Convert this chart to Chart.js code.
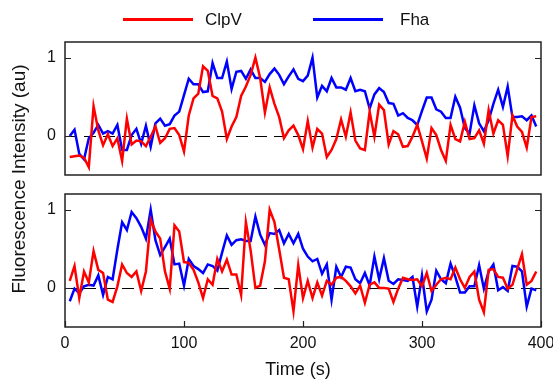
<!DOCTYPE html>
<html><head><meta charset="utf-8">
<script src="https://cdn.jsdelivr.net/npm/chart.js@4.4.1/dist/chart.umd.min.js"></script>
<style>
html,body{margin:0;padding:0;background:#fff;}
#wrap{position:relative;width:553px;height:380px;background:#fff;}
canvas{position:absolute;left:0;top:0;}
</style></head><body>
<div id="wrap"><canvas id="top" width="553" height="380"></canvas><canvas id="bot" width="553" height="380"></canvas></div>
<script>
const time = [4,8,12,16,20,24,28,32,36,40,
44,48,52,56,60,64,68,72,76,80,
84,88,92,96,100,104,108,112,116,120,
124,128,132,136,140,144,148,152,156,160,
164,168,172,176,180,184,188,192,196,200,
204,208,212,216,220,224,228,232,236,240,
244,248,252,256,260,264,268,272,276,280,
284,288,292,296,300,304,308,312,316,320,
324,328,332,336,340,344,348,352,356,360,
364,368,372,376,380,384,388,392,396];

const seriesNames = ['ClpV', 'Fha'];
const seriesColors = ['#ff0000', '#0000ff'];

const topClpV = [-0.27,-0.26,-0.25,-0.28,-0.40,0.38,0.07,-0.12,0.02,-0.13,
-0.03,-0.32,0.22,-0.11,-0.06,-0.07,-0.13,-0.01,0.12,-0.09,
-0.03,0.09,0.10,0.01,-0.20,0.26,0.48,0.54,0.89,0.83,
0.51,0.48,0.31,-0.04,0.12,0.24,0.51,0.63,0.78,1.00,
0.74,0.30,0.62,0.41,0.24,-0.03,0.07,0.13,0.01,-0.17,
0.19,-0.15,0.09,0.03,-0.27,-0.18,-0.04,0.21,-0.01,0.30,
-0.06,-0.16,-0.18,0.31,-0.01,0.40,0.33,-0.11,0.06,0.02,
-0.14,-0.13,-0.01,0.14,-0.07,-0.29,0.10,0.01,-0.18,-0.32,
0.14,-0.04,-0.07,0.18,-0.04,-0.03,0.07,-0.10,0.33,0.03,
0.20,0.14,-0.26,0.26,0.12,0.05,-0.15,0.24,0.25];

const topFha = [0.00,0.08,-0.23,-0.30,-0.03,0.04,0.14,0.03,0.06,0.03,
0.14,-0.18,-0.18,0.01,0.09,-0.10,0.13,-0.14,0.16,0.22,
0.13,0.15,0.26,0.31,0.52,0.73,0.66,0.66,0.56,0.57,
0.93,0.74,0.74,0.95,0.60,0.82,0.83,0.73,0.85,0.74,
0.74,0.69,0.79,0.86,0.78,0.66,0.76,0.85,0.73,0.70,
0.77,1.00,0.49,0.64,0.57,0.74,0.62,0.62,0.59,0.74,
0.57,0.59,0.57,0.35,0.53,0.61,0.56,0.42,0.41,0.26,
0.29,0.23,0.20,0.14,0.32,0.49,0.49,0.34,0.31,0.23,
0.23,0.50,0.36,0.10,0.03,0.39,0.16,0.06,0.20,0.41,
0.59,0.37,0.63,0.24,0.24,0.25,0.20,0.26,0.12];

const botClpV = [0.09,0.28,-0.13,0.21,0.07,0.47,0.23,0.19,-0.15,-0.18,
0.02,0.30,0.19,0.14,0.21,-0.04,0.21,0.87,0.72,0.63,
0.21,-0.01,0.80,0.72,0.33,0.32,0.23,0.07,-0.13,0.11,
0.04,0.37,0.21,0.36,0.17,0.17,-0.09,0.84,0.48,0.00,
0.03,0.34,1.00,0.84,0.49,0.13,0.11,-0.30,0.29,-0.13,
0.09,-0.13,0.07,-0.10,0.09,0.04,0.13,0.14,0.09,0.02,
-0.07,0.03,-0.19,0.04,0.07,0.00,0.00,-0.01,-0.18,-0.01,
0.13,0.11,0.10,0.11,0.02,0.19,-0.04,0.04,0.11,0.13,
0.11,0.26,0.11,0.00,0.14,0.21,-0.15,-0.31,0.23,0.24,
0.14,0.13,-0.01,0.04,0.24,0.43,0.04,0.09,0.21];

const botFha = [-0.17,-0.01,-0.07,0.02,0.04,0.03,0.16,-0.09,0.14,0.11,
0.49,0.84,0.74,0.97,0.89,0.78,0.63,1.00,0.61,0.42,
0.52,0.63,0.30,0.31,0.03,0.37,0.28,0.24,0.19,0.30,
0.28,0.22,0.45,0.67,0.55,0.61,0.62,0.60,0.60,0.91,
0.68,0.55,0.70,0.69,0.74,0.57,0.69,0.57,0.69,0.50,
0.40,0.34,0.37,0.18,0.30,-0.15,0.27,0.14,0.27,0.26,
0.11,0.06,0.19,0.03,0.40,0.11,0.38,0.09,0.05,0.11,
0.10,0.09,0.14,-0.24,0.16,-0.30,-0.15,0.22,0.11,0.06,
0.31,0.14,-0.06,-0.06,0.02,0.02,0.29,-0.01,0.21,0.30,
-0.03,0.01,-0.04,0.28,0.27,0.21,-0.24,-0.01,-0.03];

const xTicks = [0, 100, 200, 300, 400];
const yTicks = [0, 1];
const xTitle = 'Time (s)';
const yTitle = 'Fluorescence Intensity (au)';

const FONT = "'Liberation Sans', Arial, Helvetica, sans-serif";

function pts(v) { return time.map((t, i) => ({ x: t, y: v[i] })); }
function mkDatasets(a, b) {
  return [a, b].map((v, i) => ({
    label: seriesNames[i], data: pts(v),
    borderColor: seriesColors[i], backgroundColor: seriesColors[i],
    borderWidth: 2.5, pointRadius: 0, tension: 0, fill: false
  }));
}

const panelPlugin = {
  id: 'panel',
  beforeDatasetsDraw(chart) {
    const { ctx, chartArea: a, scales: { y } } = chart;
    ctx.save();
    ctx.beginPath(); ctx.rect(a.left, a.top, a.width, a.height); ctx.clip();
    ctx.strokeStyle = '#000'; ctx.lineWidth = 1.2; ctx.setLineDash([12, 7]);
    const y0 = Math.round(y.getPixelForValue(0)) + 0.5;
    ctx.beginPath(); ctx.moveTo(a.left, y0); ctx.lineTo(a.right, y0); ctx.stroke();
    ctx.restore();
  },
  afterDraw(chart, args, o) {
    const { ctx, chartArea: a, scales: { x, y } } = chart;
    ctx.save();
    ctx.setLineDash([]);
    ctx.strokeStyle = '#222'; ctx.lineWidth = 1.5;
    ctx.strokeRect(a.left, a.top, a.width, a.height);
    ctx.lineWidth = 1.2;
    yTicks.forEach(v => {
      const p = Math.round(y.getPixelForValue(v)) + 0.5;
      ctx.beginPath();
      ctx.moveTo(a.left, p); ctx.lineTo(a.left + 6, p);
      ctx.moveTo(a.right, p); ctx.lineTo(a.right - 6, p);
      ctx.stroke();
    });
    if (o.xticks) {
      xTicks.forEach(v => {
        const p = Math.round(x.getPixelForValue(v)) + 0.5;
        ctx.beginPath(); ctx.moveTo(p, a.bottom); ctx.lineTo(p, a.bottom - 6); ctx.stroke();
      });
      ctx.fillStyle = '#111';
      ctx.font = '18px ' + FONT;
      ctx.textAlign = 'center'; ctx.textBaseline = 'middle';
      ctx.fillText(xTitle, 298, 370);
    }
    if (o.legend) {
      const pos = [{ x1: 123, x2: 193, tx: 205 }, { x1: 313, x2: 383, tx: 400 }];
      chart.data.datasets.forEach((d, i) => {
        ctx.strokeStyle = d.borderColor; ctx.lineWidth = 3;
        ctx.beginPath(); ctx.moveTo(pos[i].x1, 19.5); ctx.lineTo(pos[i].x2, 19.5); ctx.stroke();
        ctx.fillStyle = '#111'; ctx.font = '17px ' + FONT;
        ctx.textAlign = 'left'; ctx.textBaseline = 'middle';
        ctx.fillText(d.label, pos[i].tx, 20);
      });
    }
    if (o.ytitle) {
      ctx.translate(20, 179);
      ctx.rotate(-Math.PI / 2);
      ctx.fillStyle = '#111'; ctx.font = '19px ' + FONT;
      ctx.textAlign = 'center'; ctx.textBaseline = 'middle';
      ctx.fillText(yTitle, 0, 0);
    }
    ctx.restore();
  }
};

function yScale() {
  return {
    min: -0.5, max: 1.2,
    afterFit(s) { s.width = 65; s.paddingTop = 0; s.paddingBottom = 0; },
    afterBuildTicks(s) { s.ticks = yTicks.map(v => ({ value: v })); },
    grid: { display: false, drawTicks: false },
    border: { display: false },
    ticks: { font: { family: FONT, size: 16 }, color: '#111', padding: 9 }
  };
}

new Chart(document.getElementById('top'), {
  type: 'line',
  data: { datasets: mkDatasets(topClpV, topFha) },
  options: {
    responsive: false, animation: false, devicePixelRatio: 1,
    layout: { padding: { left: 0, right: 12, top: 42, bottom: 205 } },
    plugins: { legend: { display: false }, tooltip: { enabled: false },
      panel: { legend: true, ytitle: true, xticks: false } },
    scales: {
      x: { type: 'linear', min: 0, max: 400, display: false },
      y: yScale()
    }
  },
  plugins: [panelPlugin]
});

new Chart(document.getElementById('bot'), {
  type: 'line',
  data: { datasets: mkDatasets(botClpV, botFha) },
  options: {
    responsive: false, animation: false, devicePixelRatio: 1,
    layout: { padding: { left: 0, right: 12, top: 194, bottom: 0 } },
    plugins: { legend: { display: false }, tooltip: { enabled: false },
      panel: { legend: false, ytitle: false, xticks: true } },
    scales: {
      x: {
        type: 'linear', min: 0, max: 400,
        afterFit(s) { s.height = 53; s.paddingLeft = 0; s.paddingRight = 0; },
        afterBuildTicks(s) { s.ticks = xTicks.map(v => ({ value: v })); },
        grid: { display: false, drawTicks: false },
        border: { display: false },
        ticks: { font: { family: FONT, size: 16 }, color: '#111', padding: 7, maxRotation: 0 }
      },
      y: yScale()
    }
  },
  plugins: [panelPlugin]
});
</script>
</body></html>
